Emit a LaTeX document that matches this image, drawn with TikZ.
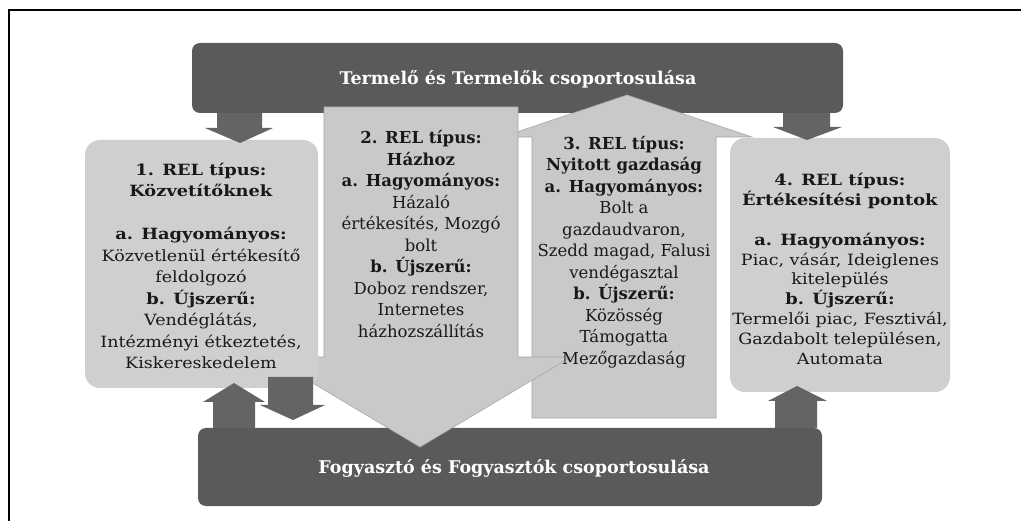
\documentclass[tikz,border=0pt]{standalone}
\usepackage{fontspec}
\setmainfont{DejaVu Serif}
\newfontfamily\fa{DejaVu Serif}[FakeStretch=1.13,BoldFont={DejaVu Serif Bold},BoldFeatures={FakeStretch=1.15}]
\newfontfamily\fb{DejaVu Serif}[FakeStretch=1.0,BoldFont={DejaVu Serif Bold},BoldFeatures={FakeStretch=1.0}]
\begin{document}
\begin{tikzpicture}[x=1pt,y=-1pt,
  bar/.style={fill=barc,rounded corners=8pt,draw=none},
  boxl/.style={fill=boxc,rounded corners=15pt,draw=none},
  arr/.style={fill=arrc,draw=none},
  bigarr/.style={fill=boxd,draw=gray!70,line width=0.6pt},
  bartext/.style={text=white,font=\fontsize{17.5}{20}\selectfont\bfseries},
  boxtext/.style={align=center,font=\fa\fontsize{15.5}{21.5}\selectfont,text=black!90},
  arrtext/.style={align=center,font=\fb\fontsize{16.5}{21.5}\selectfont,text=black!90}]
\definecolor{barc}{RGB}{90,90,90}
\definecolor{arrc}{RGB}{100,100,100}
\definecolor{boxc}{RGB}{207,207,207}
\definecolor{boxd}{RGB}{201,201,201}
\useasboundingbox (0,0) rectangle (1021,521);
\fill[white] (0,0) rectangle (1021,521);
\draw[line width=1.8pt] (9,521) -- (9,10) -- (1021,10);
% bars
\fill[bar] (192,43) rectangle (843,113);
\node[bartext] (top) at (518,79) {Termelő és Termelők csoportosulása};
\fill[bar] (198,428) rectangle (822,506);
% box 3 (up arrow)
\draw[bigarr] (532,418) -- (716,418) -- (716,137) -- (752,137) -- (627,95) -- (502,137) -- (532,137) -- cycle;
% box 2 (down arrow)
\draw[bigarr] (324,107) -- (518,107) -- (518,357) -- (571,357) -- (420,447) -- (269,357) -- (324,357) -- cycle;
\node[bartext] (bottom) at (514,468) {Fogyasztó és Fogyasztók csoportosulása};
% box 1 and 4
\fill[boxl] (85,140) rectangle (318,388);
\fill[boxl] (730,138) rectangle (950,392);
% dark arrows
\fill[arr] (217,113) -- (262,113) -- (262,128) -- (273,128) -- (240,143) -- (205,128) -- (217,128) -- cycle;
\fill[arr] (783,113) -- (830,113) -- (830,127) -- (842,127) -- (807,140) -- (773,127) -- (783,127) -- cycle;
\fill[arr] (268,377) -- (313,377) -- (313,405) -- (325,405) -- (293,420) -- (260,405) -- (268,405) -- cycle;
\fill[arr] (213,428) -- (255,428) -- (255,402) -- (265,402) -- (234,383) -- (203,402) -- (213,402) -- cycle;
\fill[arr] (775,428) -- (817,428) -- (817,401) -- (827,401) -- (797,386) -- (768,401) -- (775,401) -- cycle;
% texts
\node[boxtext] (t1) at (201,266) {\textbf{1. REL típus:}\\\textbf{Közvetítőknek}\\[21.5pt]\textbf{a. Hagyományos:}\\Közvetlenül értékesítő\\feldolgozó\\\textbf{b. Újszerű:}\\Vendéglátás,\\Intézményi étkeztetés,\\Kiskereskedelem};
\node[arrtext] (t2) at (421,234) {\textbf{2. REL típus:}\\\textbf{Házhoz}\\\textbf{a. Hagyományos:}\\Házaló\\értékesítés, Mozgó\\bolt\\\textbf{b. Újszerű:}\\Doboz rendszer,\\Internetes\\házhozszállítás};
\node[arrtext] (t3) at (624,252) {\textbf{3. REL típus:}\\\textbf{Nyitott gazdaság}\\\textbf{a. Hagyományos:}\\Bolt a\\gazdaudvaron,\\Szedd magad, Falusi\\vendégasztal\\\textbf{b. Újszerű:}\\Közösség\\Támogatta\\Mezőgazdaság};
\node[boxtext,font=\fa\fontsize{15.5}{19.8}\selectfont] (t4) at (840,269) {\textbf{4. REL típus:}\\\textbf{Értékesítési pontok}\\[19.8pt]\textbf{a. Hagyományos:}\\Piac, vásár, Ideiglenes\\kitelepülés\\\textbf{b. Újszerű:}\\Termelői piac, Fesztivál,\\Gazdabolt településen,\\Automata};
\end{tikzpicture}
\end{document}
